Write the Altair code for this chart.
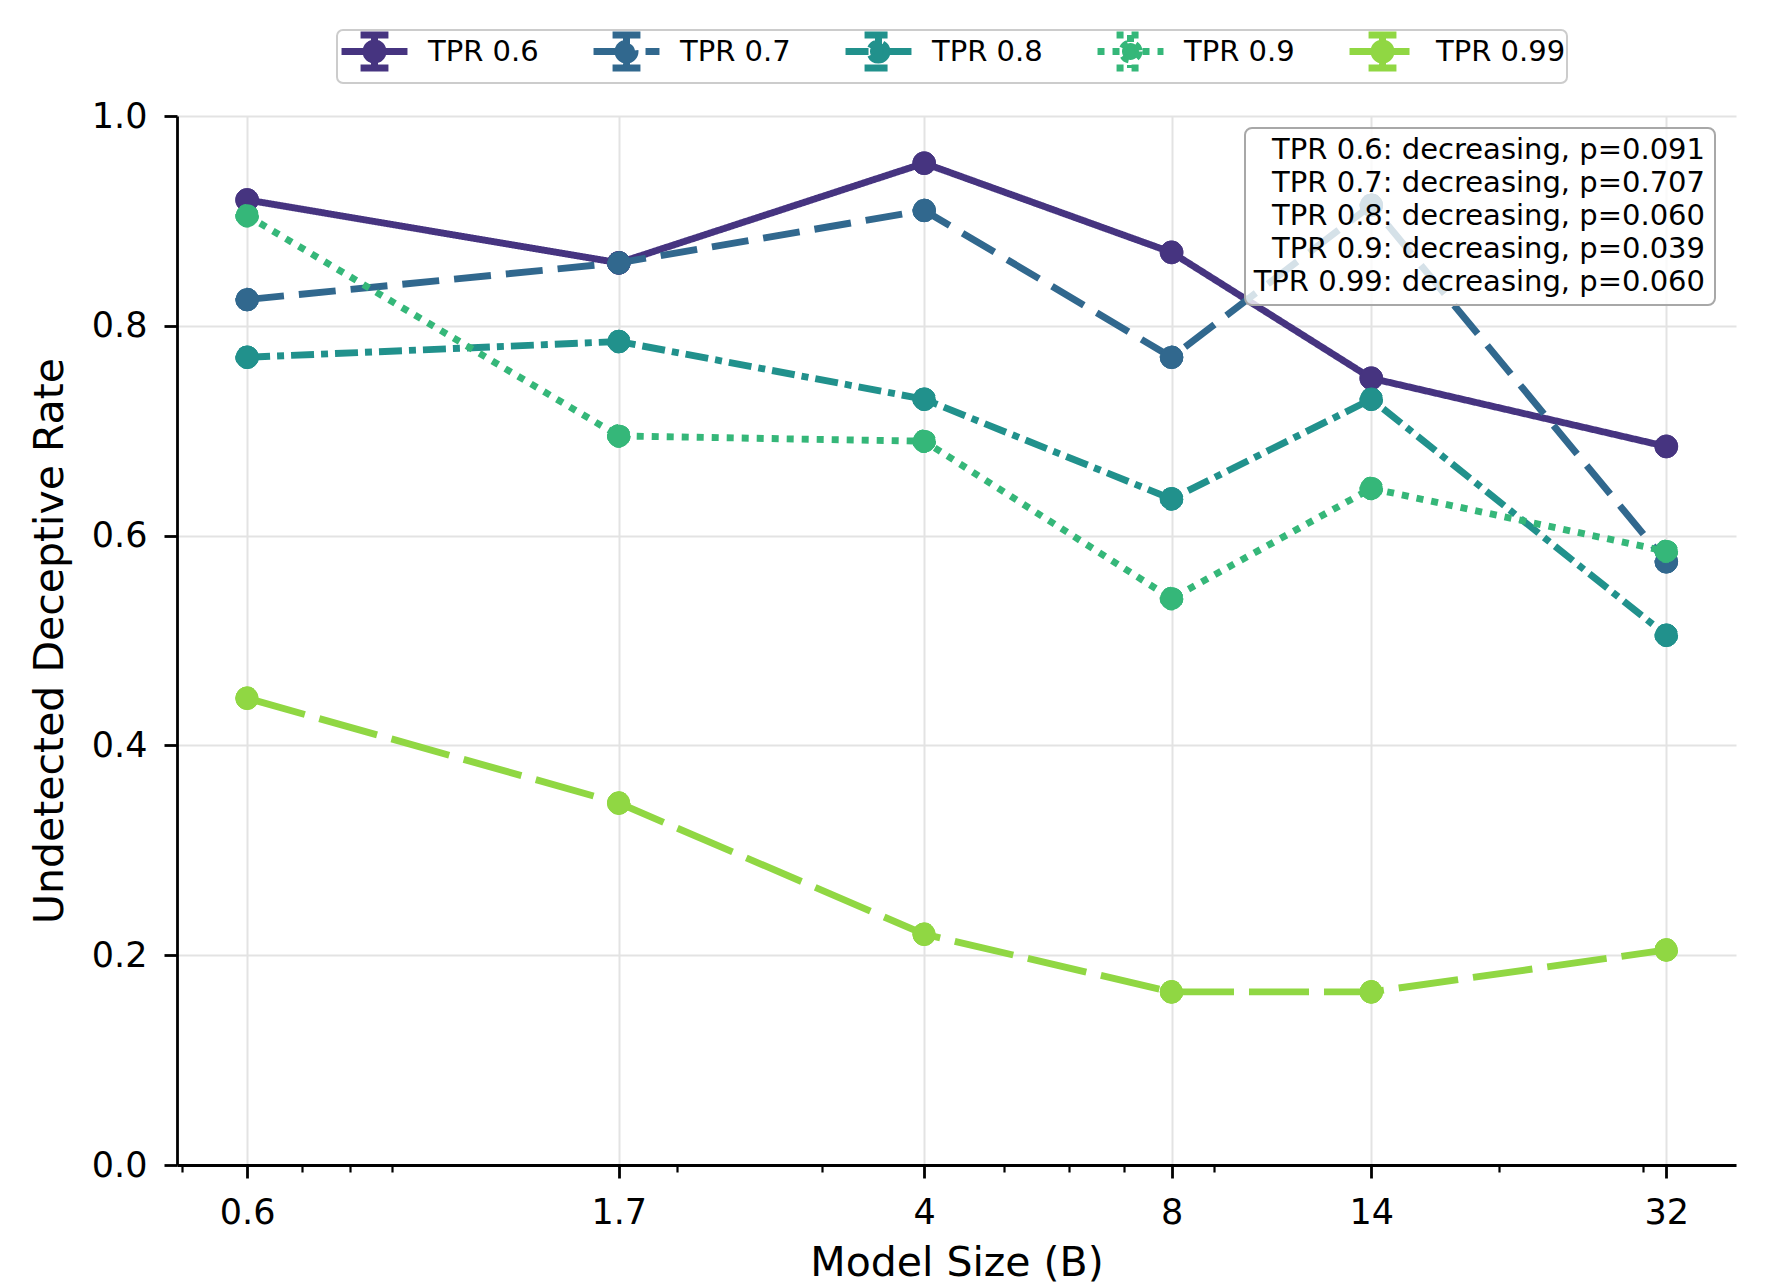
import altair as alt
import pandas as pd

# ---- data ----
sizes = [0.6, 1.7, 4, 8, 14, 32]
series_names = ["TPR 0.6", "TPR 0.7", "TPR 0.8", "TPR 0.9", "TPR 0.99"]
tpr_06 = [0.920, 0.860, 0.955, 0.870, 0.750, 0.685]
tpr_07 = [0.825, 0.860, 0.910, 0.770, 0.915, 0.575]
tpr_08 = [0.770, 0.785, 0.730, 0.635, 0.730, 0.505]
tpr_09 = [0.905, 0.695, 0.690, 0.540, 0.645, 0.585]
tpr_099 = [0.445, 0.345, 0.220, 0.165, 0.165, 0.205]
all_values = [tpr_06, tpr_07, tpr_08, tpr_09, tpr_099]

major_ticks = [0.6, 1.7, 4, 8, 14, 32]
minor_ticks = [0.5, 0.7, 0.8, 0.9, 2, 3, 5, 6, 7, 9, 20, 30]
y_ticks = [0.0, 0.2, 0.4, 0.6, 0.8, 1.0]

annotation_lines = [
    "TPR 0.6: decreasing, p=0.091",
    "TPR 0.7: decreasing, p=0.707",
    "TPR 0.8: decreasing, p=0.060",
    "TPR 0.9: decreasing, p=0.039",
    "TPR 0.99: decreasing, p=0.060",
]

# ---- styles ----
colors = ["#463480", "#31688e", "#21918c", "#35b779", "#90d743"]
dashes = [[1, 0], [37, 15], [23, 7, 7, 7], [7, 8], [60, 15]]
FONT = "DejaVu Sans"

rows = []
for name, vals in zip(series_names, all_values):
    for s, v in zip(sizes, vals):
        rows.append({"size": s, "rate": v, "series": name})
df = pd.DataFrame(rows)

W, H = 1559, 1049
x_scale = alt.Scale(type="log", domain=[0.493, 38.9], nice=False)
y_scale = alt.Scale(domain=[0, 1], nice=False, zero=False)
color_scale = alt.Scale(domain=series_names, range=colors)
dash_scale = alt.Scale(domain=series_names, range=dashes)

# legend glyph: dashed line + error bar with caps + marker (unit = 17 px)
legend_path = ("M-1.94,0H1.94"
               "M-0.82,-0.97H0.82M-0.82,0.97H0.82M0,-0.97V0.97"
               "M0.5,0A0.5,0.5,0,1,1,-0.5,0A0.5,0.5,0,1,1,0.5,0")

legend = alt.Legend(
    title=None,
    orient="none",
    direction="horizontal",
    legendX=160,
    legendY=-86,
    symbolType=legend_path,
    symbolSize=34 * 34,
    symbolOffset=16,
    symbolStrokeWidth=7,
    symbolOpacity=1,
    labelFontSize=29,
    labelFont=FONT,
    labelColor="black",
    labelOffset=33,
    columnPadding=40,
)

X_NOAXIS = dict(scale=x_scale, axis=None)
Y_NOAXIS = dict(scale=y_scale, axis=None)

# axes layer (grid, major ticks, labels, titles)
axes_layer = alt.Chart(df).mark_point(opacity=0).encode(
    x=alt.X("size:Q", scale=x_scale, axis=alt.Axis(
        values=major_ticks, format="~g", title="Model Size (B)",
        grid=True, gridColor="#e3e3e3", gridWidth=2,
        domainColor="black", domainWidth=2.8,
        tickColor="black", tickSize=13, tickWidth=2.8,
        labelFontSize=35, labelFont=FONT, labelColor="black", labelPadding=17,
        titleFontSize=41, titleFont=FONT, titleFontWeight="normal",
        titleColor="black", titlePadding=13, orient="bottom")),
    y=alt.Y("rate:Q", scale=y_scale, axis=alt.Axis(
        values=y_ticks, format=".1f", title="Undetected Deceptive Rate",
        grid=True, gridColor="#e3e3e3", gridWidth=2,
        domainColor="black", domainWidth=2.8,
        tickColor="black", tickSize=13, tickWidth=2.8,
        labelFontSize=35, labelFont=FONT, labelColor="black", labelPadding=17,
        titleFontSize=41, titleFont=FONT, titleFontWeight="normal",
        titleColor="black", titlePadding=20)),
)

minor_layer = alt.Chart(df).mark_point(opacity=0).encode(
    x=alt.X("size:Q", scale=x_scale, axis=alt.Axis(
        values=minor_ticks, labels=False, domain=False, grid=False,
        tickColor="black", tickSize=7, tickWidth=2.2, title=None,
        orient="bottom")),
    y=alt.Y("rate:Q", **Y_NOAXIS),
)

# first colour-bearing layer: filled points of every series (drives legend look)
pts_all = alt.Chart(df).mark_point(filled=True, size=510, opacity=1, strokeWidth=1).encode(
    x=alt.X("size:Q", **X_NOAXIS),
    y=alt.Y("rate:Q", **Y_NOAXIS),
    color=alt.Color("series:N", scale=color_scale, legend=legend),
    stroke=alt.Stroke("series:N", scale=color_scale, legend=legend),
    strokeDash=alt.StrokeDash("series:N", scale=dash_scale, legend=legend),
)

layers = [axes_layer, minor_layer, pts_all]
for i, name in enumerate(series_names):
    base = alt.Chart(df).transform_filter(alt.datum.series == name)
    line = base.mark_line(strokeWidth=6.9, strokeCap="butt").encode(
        x=alt.X("size:Q", **X_NOAXIS),
        y=alt.Y("rate:Q", **Y_NOAXIS),
        color=alt.Color("series:N", scale=color_scale, legend=legend),
        strokeDash=alt.StrokeDash("series:N", scale=dash_scale, legend=legend),
    )
    pts = base.mark_point(filled=True, size=510, opacity=1, strokeWidth=1).encode(
        x=alt.X("size:Q", **X_NOAXIS),
        y=alt.Y("rate:Q", **Y_NOAXIS),
        color=alt.Color("series:N", scale=color_scale, legend=legend),
        stroke=alt.Stroke("series:N", scale=color_scale, legend=legend),
        strokeDash=alt.StrokeDash("series:N", scale=dash_scale, legend=legend),
    )
    layers += [line, pts]

one_row = alt.Data(values=[{"k": 1}])
box = alt.Chart(one_row).mark_rect(
    fill="white", fillOpacity=0.8, stroke="#a8a8a8", strokeWidth=2,
    cornerRadius=7,
).encode(
    x=alt.value(1068), x2=alt.value(1538),
    y=alt.value(12), y2=alt.value(189),
)
note = alt.Chart(one_row).mark_text(
    text=annotation_lines, align="right", baseline="alphabetic",
    fontSize=29, font=FONT, color="black", lineHeight=33,
).encode(x=alt.value(1528), y=alt.value(43))

layers += [box, note]

chart = alt.layer(*layers).resolve_axis(x="independent", y="independent").properties(
    width=W, height=H,
    padding={"left": 177, "top": 116, "right": 32, "bottom": 119},
    autosize=alt.AutoSizeParams(type="none"),
    background="white",
).configure_view(stroke=None).configure_legend(
    padding=1, strokeColor="#cccccc", fillColor="white",
    cornerRadius=6, strokeWidth=2,
)

chart.save("out.html", embed_options={"renderer": "svg", "actions": False})
